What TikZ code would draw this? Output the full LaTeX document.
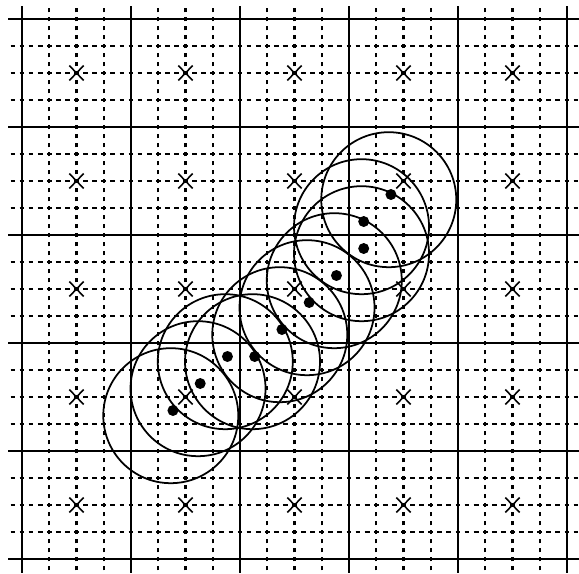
\documentclass[tikz,border=0pt]{standalone}
\usepackage{tikz}
\tikzset{
  cellline/.style={line width=0.8pt, black},
  hsub/.style={line width=0.6pt, black, dash pattern=on 0.48mm off 0.4283mm, dash phase=0.694mm},
  vsub/.style={line width=0.6pt, black, dash pattern=on 0.48mm off 0.42mm, dash phase=0.69mm},
  cellmark/.style={line width=0.45pt, black},
  reach/.style={line width=0.5pt, black},
  sample/.style={fill=black},
}

\begin{document}
\begin{tikzpicture}[x=1.09cm, y=1.08cm]
  \useasboundingbox (-2.2mm,-1.4mm) rectangle (55.7mm,55.9mm);
  % Dashed quarter lines
  \foreach \i in {0,...,4} {
    \foreach \k in {0.25,0.5,0.75} {
      \draw[vsub] (\i+\k,-0.125) -- (\i+\k,5.125);
      \draw[hsub] (-0.125,\i+\k) -- (5.125,\i+\k);
    }
  }
  % Cell boundaries
  \foreach \i in {0,...,5} {
    \draw[cellline] (\i,-0.125) -- (\i,5.125);
    \draw[cellline] (-0.125,\i) -- (5.125,\i);
  }
  % Cell centres
  \foreach \i in {0,...,4} {
    \foreach \j in {0,...,4} {
      \draw[cellmark] (\i+0.5,\j+0.5) +(-0.72mm,-0.75mm) -- +(0.72mm,0.75mm);
      \draw[cellmark] (\i+0.5,\j+0.5) +(-0.72mm,0.75mm) -- +(0.72mm,-0.75mm);
    }
  }
  % Samples and their circles
  \foreach \x/\y in {1.375/1.375, 1.625/1.625, 1.875/1.875, 2.125/1.875, 2.375/2.125,
                     2.625/2.375, 2.875/2.625, 3.125/2.875, 3.125/3.125, 3.375/3.375} {
    \draw[reach] (\x-0.01,\y-0.048) circle [radius=6.75mm];
    \fill[sample] (\x+0.01,\y) circle [radius=0.55mm];
  }
\end{tikzpicture}
\end{document}
